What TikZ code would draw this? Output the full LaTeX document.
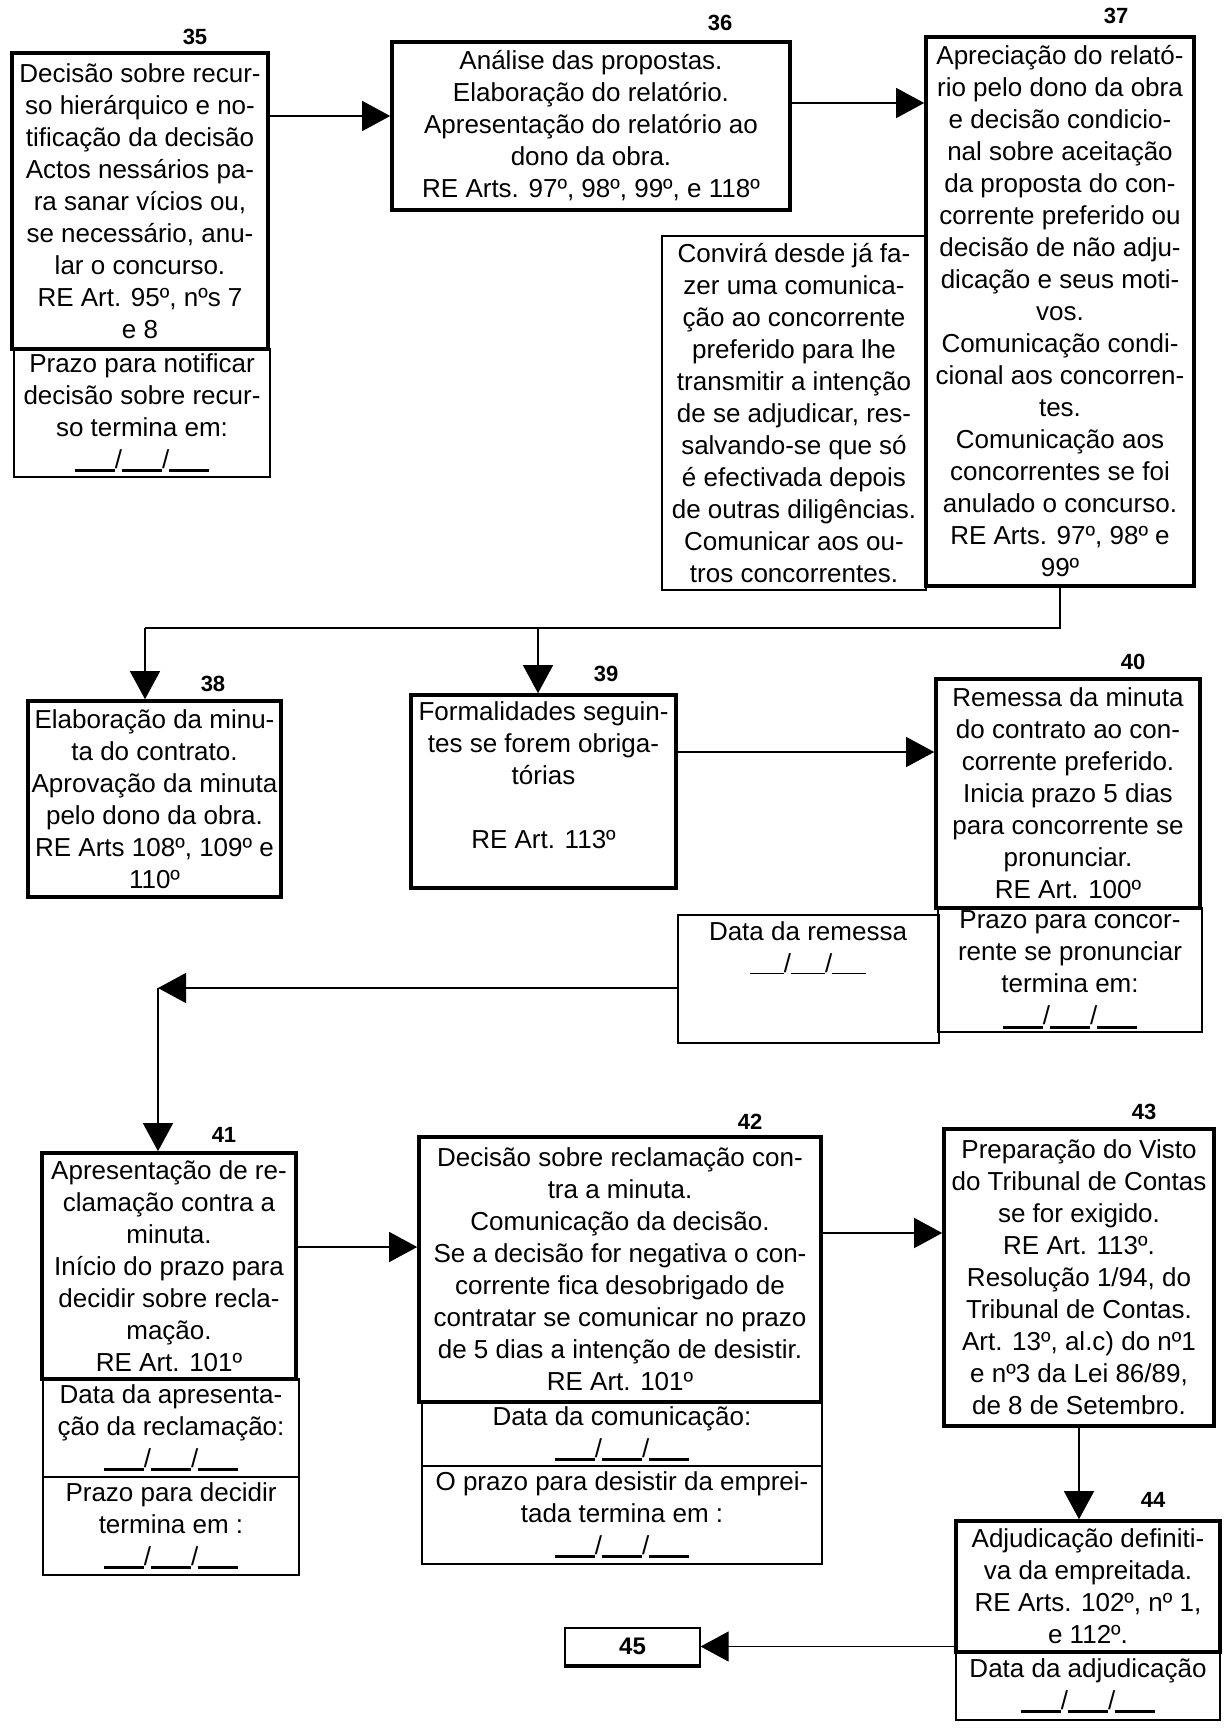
\documentclass[tikz,border=0pt]{standalone}
\usepackage{fontspec}
\setmainfont{Liberation Sans}
\usetikzlibrary{arrows.meta}
\newcommand{\datelinha}{\rule[-4pt]{40pt}{3.2pt}/\rule[-4pt]{40pt}{3.2pt}/\rule[-4pt]{40pt}{3.2pt}}
\newcommand{\datafina}{\rule[-2pt]{34pt}{1.3pt}/\rule[-2pt]{34pt}{1.3pt}/\rule[-2pt]{34pt}{1.3pt}}
\tikzset{
  caixa/.style={draw,line width=3.6pt,align=center,inner xsep=0pt,inner ysep=0pt,font=\fontsize{26}{32}\selectfont},
  rodape/.style={caixa,line width=2pt},
  num/.style={font=\fontsize{22}{26}\selectfont\bfseries},
  seta/.style={line width=1.2pt,-{Triangle[length=28pt,width=30pt]}},
  linha/.style={line width=1.2pt}
}
\begin{document}
\begin{tikzpicture}[x=1pt,y=-1pt]
\useasboundingbox (0,0) rectangle (1223,1731);
\foreach \n/\x/\y in {35/195/37,36/720/23,37/1116/16,38/213/684,39/606/674,40/1133/662,41/224/1135,42/750/1122,43/1144/1112,44/1153/1500}{
  \node[num] (l\n) at (\x,\y) {\n};
}
\node[caixa,minimum width=256pt,minimum height=296pt] (b35) at (140,201) {Decisão sobre recur-\\so hierárquico e no-\\tificação da decisão\\Actos nessários pa-\\ra sanar vícios ou,\\se necessário, anu-\\lar o concurso.\\RE Art. 95º, nºs 7\\e 8};
\node[rodape,minimum width=256pt,minimum height=128pt] (f35) at (142,413) {Prazo para notificar\\decisão sobre recur-\\so termina em:\\\datelinha};
\node[caixa,minimum width=398pt,minimum height=168pt] (b36) at (591,126) {Análise das propostas.\\Elaboração do relatório.\\Apresentação do relatório ao\\dono da obra.\\RE Arts. 97º, 98º, 99º, e 118º};
\node[rodape,minimum width=264pt,minimum height=354pt] (c37) at (794,413) {Convirá desde já fa-\\zer uma comunica-\\ção ao concorrente\\preferido para lhe\\transmitir a intenção\\de se adjudicar, res-\\salvando-se que só\\é efectivada depois\\de outras diligências.\\Comunicar aos ou-\\tros concorrentes.};
\node[caixa,fill=white,minimum width=268pt,minimum height=549pt] (b37) at (1060,311.5) {Apreciação do relató-\\rio pelo dono da obra\\e decisão condicio-\\nal sobre aceitação\\da proposta do con-\\corrente preferido ou\\decisão de não adju-\\dicação e seus moti-\\vos.\\Comunicação condi-\\cional aos concorren-\\tes.\\Comunicação aos\\concorrentes se foi\\anulado o concurso.\\RE Arts. 97º, 98º e\\99º};
\node[caixa,minimum width=253pt,minimum height=196pt] (b38) at (154.5,799) {Elaboração da minu-\\ta do contrato.\\Aprovação da minuta\\pelo dono da obra.\\RE Arts 108º, 109º e\\110º};
\node[caixa,minimum width=265pt,minimum height=193pt] (b39) at (543.5,791.5) {Formalidades seguin-\\tes se forem obriga-\\tórias\\[32pt]RE Art. 113º\\ \mbox{}};
\node[caixa,minimum width=264pt,minimum height=229pt] (b40) at (1068,793.5) {Remessa da minuta\\do contrato ao con-\\corrente preferido.\\Inicia prazo 5 dias\\para concorrente se\\pronunciar.\\RE Art. 100º};
\node[rodape,minimum width=264pt,minimum height=124pt] (f40r) at (1070,970) {Prazo para concor-\\rente se pronunciar\\termina em:\\\datelinha};
\node[rodape,minimum width=261pt,minimum height=128pt] (f40l) at (808,979) {Data da remessa\\\datafina\\ \mbox{}\\ \mbox{}};
\node[caixa,minimum width=254pt,minimum height=226pt] (b41) at (169,1266) {Apresentação de re-\\clamação contra a\\minuta.\\Início do prazo para\\decidir sobre recla-\\mação.\\RE Art. 101º};
\node[rodape,minimum width=256pt,minimum height=98pt] (f41a) at (171,1428) {Data da apresenta-\\ção da reclamação:\\\datelinha};
\node[rodape,minimum width=256pt,minimum height=98pt] (f41b) at (171,1526) {Prazo para decidir\\termina em :\\\datelinha};
\node[caixa,minimum width=402pt,minimum height=265pt] (b42) at (620,1269.5) {Decisão sobre reclamação con-\\tra a minuta.\\Comunicação da decisão.\\Se a decisão for negativa o con-\\corrente fica desobrigado de\\contratar se comunicar no prazo\\de 5 dias a intenção de desistir.\\RE Art. 101º};
\node[rodape,minimum width=400pt,minimum height=64pt] (f42a) at (622,1434) {Data da comunicação:\\\datelinha};
\node[rodape,minimum width=400pt,minimum height=98pt] (f42b) at (622,1515) {O prazo para desistir da emprei-\\tada termina em :\\\datelinha};
\node[caixa,minimum width=270pt,minimum height=297pt] (b43) at (1079,1277.5) {Preparação do Visto\\do Tribunal de Contas\\se for exigido.\\RE Art. 113º.\\Resolução 1/94, do\\Tribunal de Contas.\\Art. 13º, al.c) do nº1\\e nº3 da Lei 86/89,\\de 8 de Setembro.};
\node[caixa,minimum width=264pt,minimum height=131pt] (b44) at (1088,1586.5) {Adjudicação definiti-\\va da empreitada.\\RE Arts. 102º, nº 1,\\e 112º.};
\node[rodape,minimum width=264pt,minimum height=68pt] (f44) at (1088,1686) {Data da adjudicação\\\datelinha};
\node[rodape,line width=1.2pt,minimum width=135pt,minimum height=37pt,font=\fontsize{24}{28}\selectfont\bfseries] (b45) at (632.5,1646.5) {45};
\draw[line width=4pt] (b45.south west) -- (b45.south east);
\draw[seta] (b35.east |- 0,116) -- (b36.west |- 0,116);
\draw[seta] (b36.east |- 0,103) -- (b37.west |- 0,103);
\coordinate (t38) at (145,628);
\coordinate (t39) at (538,628);
\draw[linha] (b37.south) |- (t38);
\draw[seta] (t38) -- (t38 |- b38.north);
\draw[seta] (t39) -- (t39 |- b39.north);
\draw[seta] (b39.east |- 0,752) -- (b40.west |- 0,752);
\coordinate (k41) at (158,988);
\draw[seta] (f40l.west |- k41) -- (k41);
\draw[seta] (k41) -- (k41 |- b41.north);
\draw[seta] (b41.east |- 0,1247) -- (b42.west |- 0,1247);
\draw[seta] (b42.east |- 0,1233) -- (b43.west |- 0,1233);
\draw[seta] (b43.south) -- (b43.south |- b44.north);
\draw[seta] (b44.west |- b45.east) -- (b45.east);
\end{tikzpicture}
\end{document}
